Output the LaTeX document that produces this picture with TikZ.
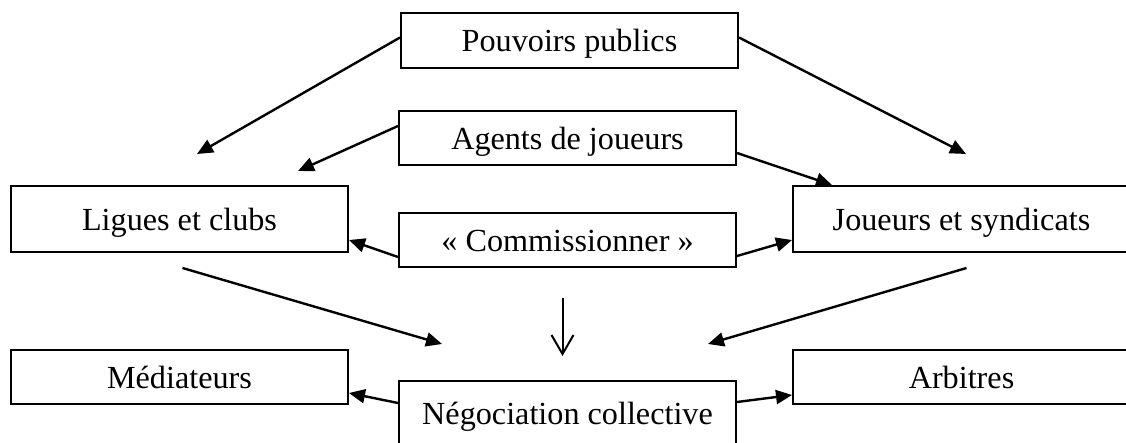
\documentclass[tikz,border=0pt]{standalone}
\usepackage{fontspec}
\setmainfont{Liberation Serif}
\usetikzlibrary{arrows.meta}
\begin{document}
\begin{tikzpicture}[x=1pt,y=-1pt,
  box/.style={draw, line width=2pt, minimum width=337pt, inner sep=0pt,
    text height=23pt, text depth=0pt,
    font=\fontsize{32.2}{37}\selectfont},
  conn/.style={line width=2.4pt, -{Triangle[length=16pt,width=14pt]}},
  openarr/.style={line width=2pt, -{Straight Barb[length=19pt,width=22pt,line width=2pt]}}]
\useasboundingbox (0,0) rectangle (1126,443);
\clip (0,0) rectangle (1126,443);
\fill[white] (0,0) rectangle (1126,443);
% boxes
\node[box, minimum height=55pt] (pp) at (569.5,40.5) {Pouvoirs publics};
\node[box, minimum height=54pt] (ag) at (567.5,138) {Agents de joueurs};
\node[box, minimum height=54pt] (co) at (567.5,240) {« Commissionner »};
\node[box, minimum height=66pt] (li) at (179.5,219) {Ligues et clubs};
\node[box, minimum height=66pt] (jo) at (961.5,219) {Joueurs et syndicats};
\node[box, minimum height=54pt] (me) at (179.5,377) {Médiateurs};
\node[box, minimum height=54pt] (ar) at (961.5,377) {Arbitres};
\node[box, minimum height=64pt] (ne) at (567.5,413) {Négociation collective};
% free ends
\coordinate (ppL) at (197,154);
\coordinate (ppR) at (966,154);
\coordinate (agL) at (298,171);
% connectors
\draw[conn] ([yshift=3pt]pp.west) -- (ppL);
\draw[conn] ([yshift=3pt]pp.east) -- (ppR);
\draw[conn] ([yshift=12pt]ag.west) -- (agL);
\draw[conn] ([yshift=-15pt]ag.east) -- ([xshift=40pt]jo.north west);
\draw[conn] ([yshift=-17pt]co.west) -- ([yshift=-21pt]li.east);
\draw[conn] ([yshift=-16pt]co.east) -- ([yshift=-21pt]jo.west);
\draw[conn] ([xshift=3pt,yshift=-15pt]li.south) -- ([xshift=44pt,yshift=36pt]ne.north west);
\draw[conn] ([xshift=5pt,yshift=-15pt]jo.south) -- ([xshift=-29pt,yshift=36pt]ne.north east);
\draw[openarr] ([xshift=-5pt,yshift=-30pt]co.south) -- ([xshift=-5pt,yshift=24pt]ne.north);
\draw[conn] ([yshift=10pt]ne.west) -- ([yshift=-16pt]me.east);
\draw[conn] ([yshift=11pt]ne.east) -- ([yshift=-18pt]ar.west);
\end{tikzpicture}
\end{document}
